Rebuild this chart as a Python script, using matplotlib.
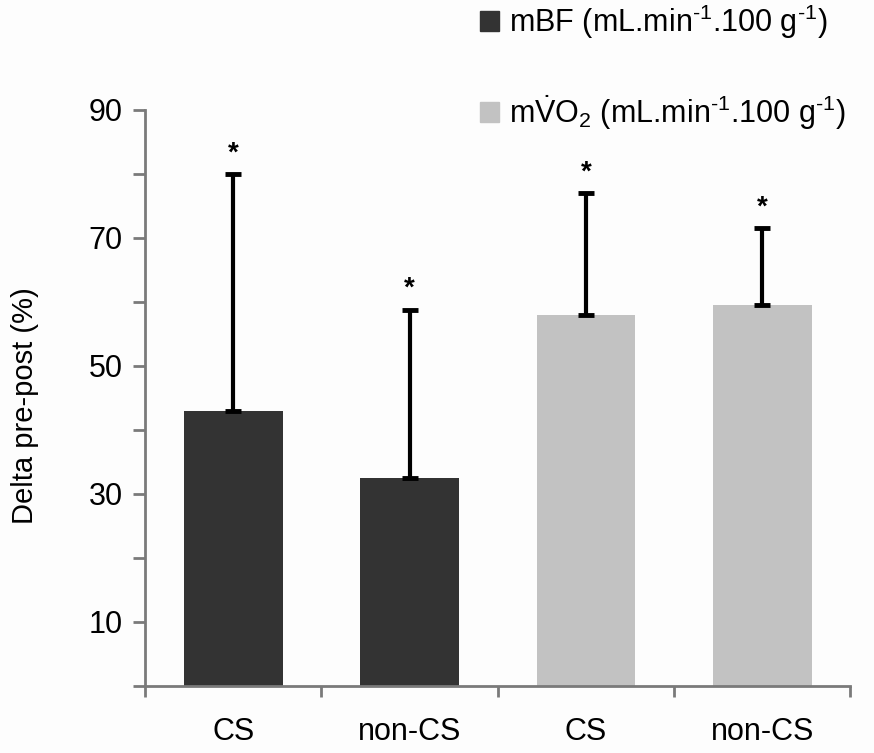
import matplotlib
matplotlib.use('Agg')
import numpy as np
from matplotlib import pyplot as plt
from matplotlib.patches import Patch

plt.rcParams['font.family'] = ['Liberation Sans', 'DejaVu Sans']
plt.rcParams['mathtext.fontset'] = 'custom'
plt.rcParams['mathtext.rm'] = 'Liberation Sans'
plt.rcParams['mathtext.it'] = 'Liberation Sans:italic'

#Data
categories = ['CS', 'non-CS', 'CS', 'non-CS']
means = [43, 32.5, 58, 59.5]
sd_upper = [37, 26.3, 19, 12]
groups = ['mBF', 'mBF', 'mVO2', 'mVO2']
colors = {'mBF': '#333333', 'mVO2': '#c2c2c2'}
legend_labels = ['mBF (mL.min$^{\\text{-}1}$.100 g$^{\\text{-}1}$)',
                 'm$\\dot{\\mathrm{V}}$O$_2$ (mL.min$^{\\text{-}1}$.100 g$^{\\text{-}1}$)']

fig = plt.figure(figsize=(8.74, 7.53), dpi=100)
fig.patch.set_facecolor('#fdfdfd')
ax = fig.add_axes([0.166, 0.089, 0.807, 0.765])
ax.set_facecolor('#fdfdfd')

x = np.arange(len(categories))
bar_colors = [colors[g] for g in groups]
ax.bar(x, means, width=0.56, color=bar_colors, zorder=2)
ax.errorbar(x, means, yerr=[np.zeros(len(means)), sd_upper], fmt='none',
            ecolor='black', elinewidth=3, capsize=6, capthick=3.5, zorder=3)

#Significance stars
for xi, m, s in zip(x, means, sd_upper):
    ax.text(xi, m + s + 1.2, '*', ha='center', va='bottom', fontsize=20, fontweight='bold')

ax.set_xlim(-0.5, len(categories) - 0.5)
ax.set_ylim(0, 90)
ax.set_yticks(np.arange(0, 91, 10))
ax.set_yticklabels(['' if v % 20 == 0 else str(v) for v in range(0, 91, 10)])
ax.set_xticks(np.arange(-0.5, len(categories), 1))
ax.set_xticklabels([])
ax.set_xticks(x, minor=True)
ax.set_xticklabels(categories, minor=True)
ax.tick_params(axis='x', which='minor', length=0, labelsize=22, pad=22)
ax.tick_params(axis='x', which='major', length=8, width=2, color='#7a7a7a')
ax.tick_params(axis='y', length=9, width=2, color='#7a7a7a', labelsize=22, pad=7)

for side in ['top', 'right']:
    ax.spines[side].set_visible(False)
for side in ['left', 'bottom']:
    ax.spines[side].set_color('#7a7a7a')
    ax.spines[side].set_linewidth(2)

ax.set_ylabel('Delta pre-post (%)', fontsize=21)
ax.yaxis.set_label_coords(-0.15, 0.486)

handles = [Patch(color=colors['mBF']), Patch(color=colors['mVO2'])]
fig.legend(handles, legend_labels, loc='upper left', bbox_to_anchor=(0.518, 1.033),
           frameon=False, fontsize=22, handlelength=0.6, handleheight=0.6,
           handletextpad=0.35, labelspacing=1.7)

plt.savefig('out.png', dpi=100, facecolor=fig.get_facecolor())
